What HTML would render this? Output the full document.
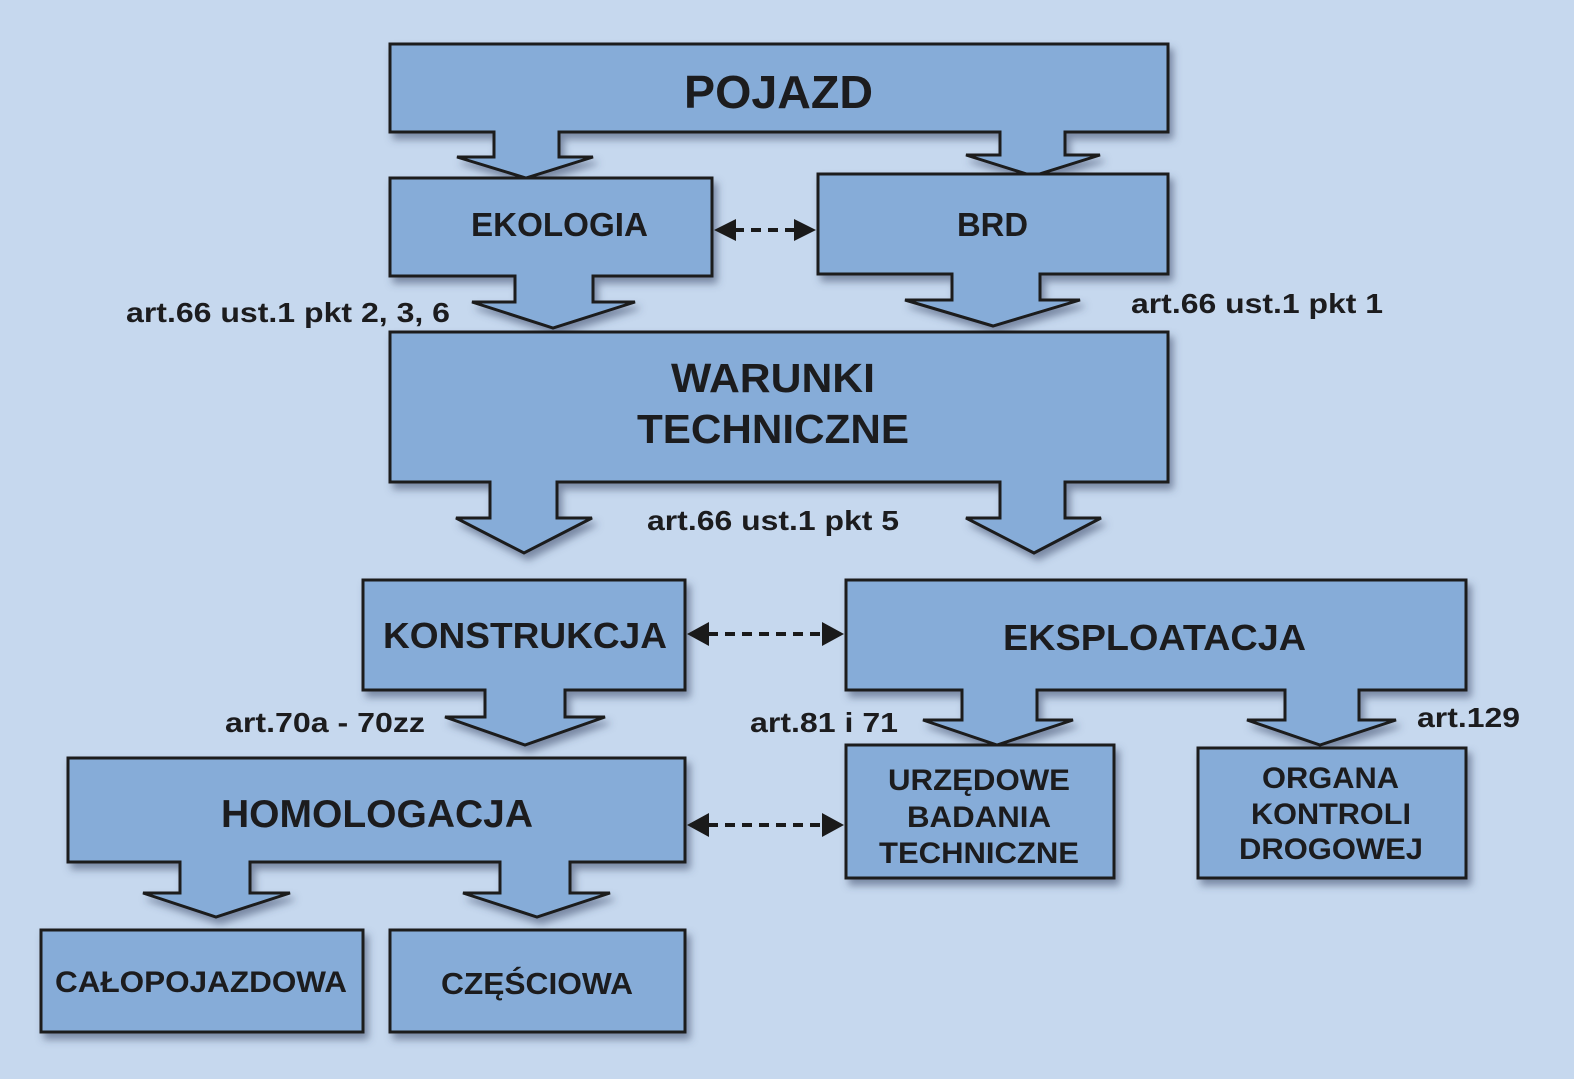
<!DOCTYPE html>
<html><head><meta charset="utf-8"><style>
html,body{margin:0;padding:0;background:#c6d8ee;}
svg{display:block;}
text{font-family:"Liberation Sans",Arial,sans-serif;font-weight:bold;fill:#1c1c1e;}
</style></head><body>
<svg width="1574" height="1079" viewBox="0 0 1574 1079" xmlns="http://www.w3.org/2000/svg">
<defs>
<filter id="sh" x="-10%" y="-10%" width="120%" height="130%">
<feDropShadow dx="4" dy="6" stdDeviation="4" flood-color="#3a4a66" flood-opacity="0.55"/>
</filter>
</defs>
<rect width="1574" height="1079" fill="#c6d8ee"/>
<g fill="#86acd8" stroke="#1a1a1a" stroke-width="3" stroke-linejoin="miter" filter="url(#sh)">
<path d="M390 44 H1168 V132 H1065 V155 H1100 L1033 176 L966 155 H1000 V132 H559 V157 H593 L526 178 L457 157 H494 V132 H390 Z"/>
<path d="M390 178 H712 V276 H593 V302 H635 L553 328 L472 302 H515 V276 H390 Z"/>
<path d="M818 174 H1168 V274 H1040 V300 H1080 L993 326 L905 300 H952 V274 H818 Z"/>
<path d="M390 332 H1168 V482 H1065 V518 H1101 L1034 553 L966 518 H1000 V482 H557 V518 H592 L524 553 L456 518 H490 V482 H390 Z"/>
<path d="M363 580 H685 V690 H565 V717 H605 L525 745 L445 717 H485 V690 H363 Z"/>
<path d="M846 580 H1466 V690 H1359 V720 H1396 L1320 745 L1247 720 H1285 V690 H1037 V720 H1073 L997 745 L923 720 H962 V690 H846 Z"/>
<rect x="846" y="745" width="268" height="133"/>
<rect x="1198" y="748" width="268" height="130"/>
<path d="M68 758 H685 V862 H570 V893 H610 L537 917 L463 893 H500 V862 H250 V893 H290 L216 917 L143 893 H180 V862 H68 Z"/>
<rect x="41" y="930" width="322" height="102"/>
<rect x="390" y="930" width="295" height="102"/>
</g>
<g stroke="#1a1a1a" stroke-width="4" stroke-dasharray="10 7" fill="none">
<line x1="734" y1="230" x2="796" y2="230"/>
<line x1="708" y1="634" x2="824" y2="634"/>
<line x1="708" y1="825" x2="824" y2="825"/>
</g>
<g fill="#1a1a1a">
<polygon points="714,230 736,219 736,241"/><polygon points="816,230 794,219 794,241"/>
<polygon points="687,634 709,622 709,646"/><polygon points="844,634 822,622 822,646"/>
<polygon points="687,825 709,813 709,837"/><polygon points="844,825 822,813 822,837"/>
</g>
<g lengthAdjust="spacingAndGlyphs">
<text x="684" y="108" font-size="46" textLength="189" lengthAdjust="spacingAndGlyphs">POJAZD</text>
<text x="471" y="236" font-size="33" textLength="177" lengthAdjust="spacingAndGlyphs">EKOLOGIA</text>
<text x="957" y="236" font-size="33" textLength="71" lengthAdjust="spacingAndGlyphs">BRD</text>
<text x="671" y="392" font-size="41" textLength="204" lengthAdjust="spacingAndGlyphs">WARUNKI</text>
<text x="637" y="443" font-size="41" textLength="272" lengthAdjust="spacingAndGlyphs">TECHNICZNE</text>
<text x="383" y="648" font-size="36" textLength="284" lengthAdjust="spacingAndGlyphs">KONSTRUKCJA</text>
<text x="1003" y="650" font-size="36" textLength="303" lengthAdjust="spacingAndGlyphs">EKSPLOATACJA</text>
<text x="221" y="827" font-size="39" textLength="312" lengthAdjust="spacingAndGlyphs">HOMOLOGACJA</text>
<text x="888" y="790" font-size="30" textLength="182" lengthAdjust="spacingAndGlyphs">URZĘDOWE</text>
<text x="907" y="827" font-size="30" textLength="144" lengthAdjust="spacingAndGlyphs">BADANIA</text>
<text x="879" y="863" font-size="30" textLength="200" lengthAdjust="spacingAndGlyphs">TECHNICZNE</text>
<text x="1262" y="788" font-size="30" textLength="137" lengthAdjust="spacingAndGlyphs">ORGANA</text>
<text x="1251" y="824" font-size="30" textLength="160" lengthAdjust="spacingAndGlyphs">KONTROLI</text>
<text x="1239" y="859" font-size="30" textLength="184" lengthAdjust="spacingAndGlyphs">DROGOWEJ</text>
<text x="55" y="992" font-size="30" textLength="292" lengthAdjust="spacingAndGlyphs">CAŁOPOJAZDOWA</text>
<text x="441" y="994" font-size="31" textLength="192" lengthAdjust="spacingAndGlyphs">CZĘŚCIOWA</text>
</g>
<g font-size="28">
<text x="126" y="322" textLength="324" lengthAdjust="spacingAndGlyphs">art.66 ust.1 pkt 2, 3, 6</text>
<text x="1131" y="313" textLength="252" lengthAdjust="spacingAndGlyphs">art.66 ust.1 pkt 1</text>
<text x="647" y="530" textLength="252" lengthAdjust="spacingAndGlyphs">art.66 ust.1 pkt 5</text>
<text x="225" y="732" textLength="200" lengthAdjust="spacingAndGlyphs">art.70a - 70zz</text>
<text x="750" y="732" textLength="148" lengthAdjust="spacingAndGlyphs">art.81 i 71</text>
<text x="1417" y="727" textLength="103" lengthAdjust="spacingAndGlyphs">art.129</text>
</g>
</svg>
</body></html>
